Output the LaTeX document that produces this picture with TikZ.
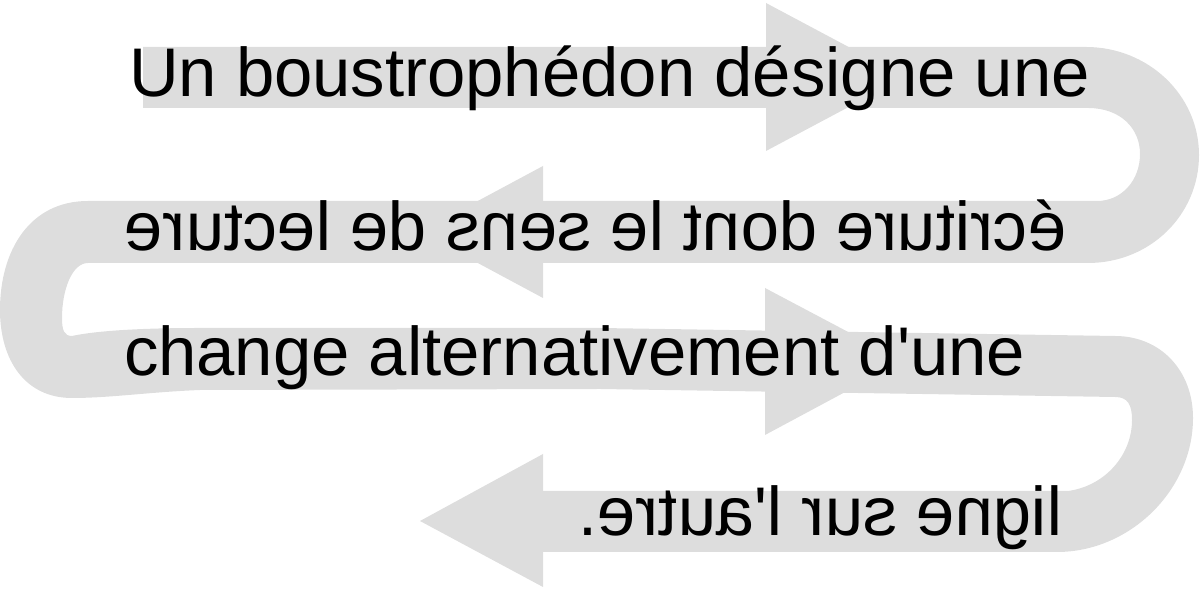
\documentclass[tikz,border=0pt]{standalone}
\usepackage{fontspec}
\setmainfont{Liberation Sans}
\usepackage{graphicx}
\definecolor{bandgray}{RGB}{221,221,221}
\tikzset{band/.style={fill=bandgray,draw=none},
	line node/.style={inner sep=0pt,outer sep=0pt,font=\fontsize{19.58pt}{23pt}\selectfont},
}

\begin{document}
\begin{tikzpicture}[x=0.01cm,y=-0.01cm]
	\useasboundingbox (0,0) rectangle (1200,589);
	
	% the winding band
	\path[band] (143,47) -- (1086,47)
	.. controls (1148,47) and (1199,95) .. (1199,155)
	.. controls (1199,215) and (1150,263) .. (1088,263) -- (88,263)
	.. controls (72,263) and (62,290) .. (62,318)
	.. controls (62,330) and (64,336) .. (72,336)
	.. controls (100,330) and (150,328) .. (200,328) -- (600,328) -- (1115,336)
	.. controls (1160,336) and (1193,370) .. (1193,418)
	.. controls (1193,490) and (1130,552) .. (1057,552) -- (543,552) -- (543,491) -- (1068,491)
	.. controls (1105,486) and (1132,455) .. (1132,420)
	.. controls (1132,405) and (1128,397) .. (1115,397) -- (600,389) -- (200,390)
	.. controls (150,392) and (110,398) .. (72,398)
	.. controls (25,398) and (0,360) .. (0,310)
	.. controls (0,250) and (30,201) .. (88,201) -- (1097,201)
	.. controls (1122,201) and (1140,180) .. (1140,154)
	.. controls (1140,128) and (1120,108) .. (1088,108) -- (143,108) -- cycle;
	
	% arrow heads
	\path[band] (766,3) -- (905,77) -- (766,151) -- cycle;
	\path[band] (543,166) -- (420,232) -- (543,298) -- cycle;
	\path[band] (765,288) -- (903,361) -- (765,435) -- cycle;
	\path[band] (543,454) -- (420,521) -- (543,587) -- cycle;
	
	\node[line node,anchor=base west] (1) at (129,97) {Un boustrophédon désigne une};
	\node[line node,anchor=base east] (2) at (1066,251) {\reflectbox{écriture dont le sens de lecture}};
	\node[line node,anchor=base west] (3) at (124,376) {change alternativement d\textquotesingle une};
	\node[line node,anchor=base east] (4) at (1062,536) {\reflectbox{ligne sur l\textquotesingle autre.}};
\end{tikzpicture}
\end{document}
